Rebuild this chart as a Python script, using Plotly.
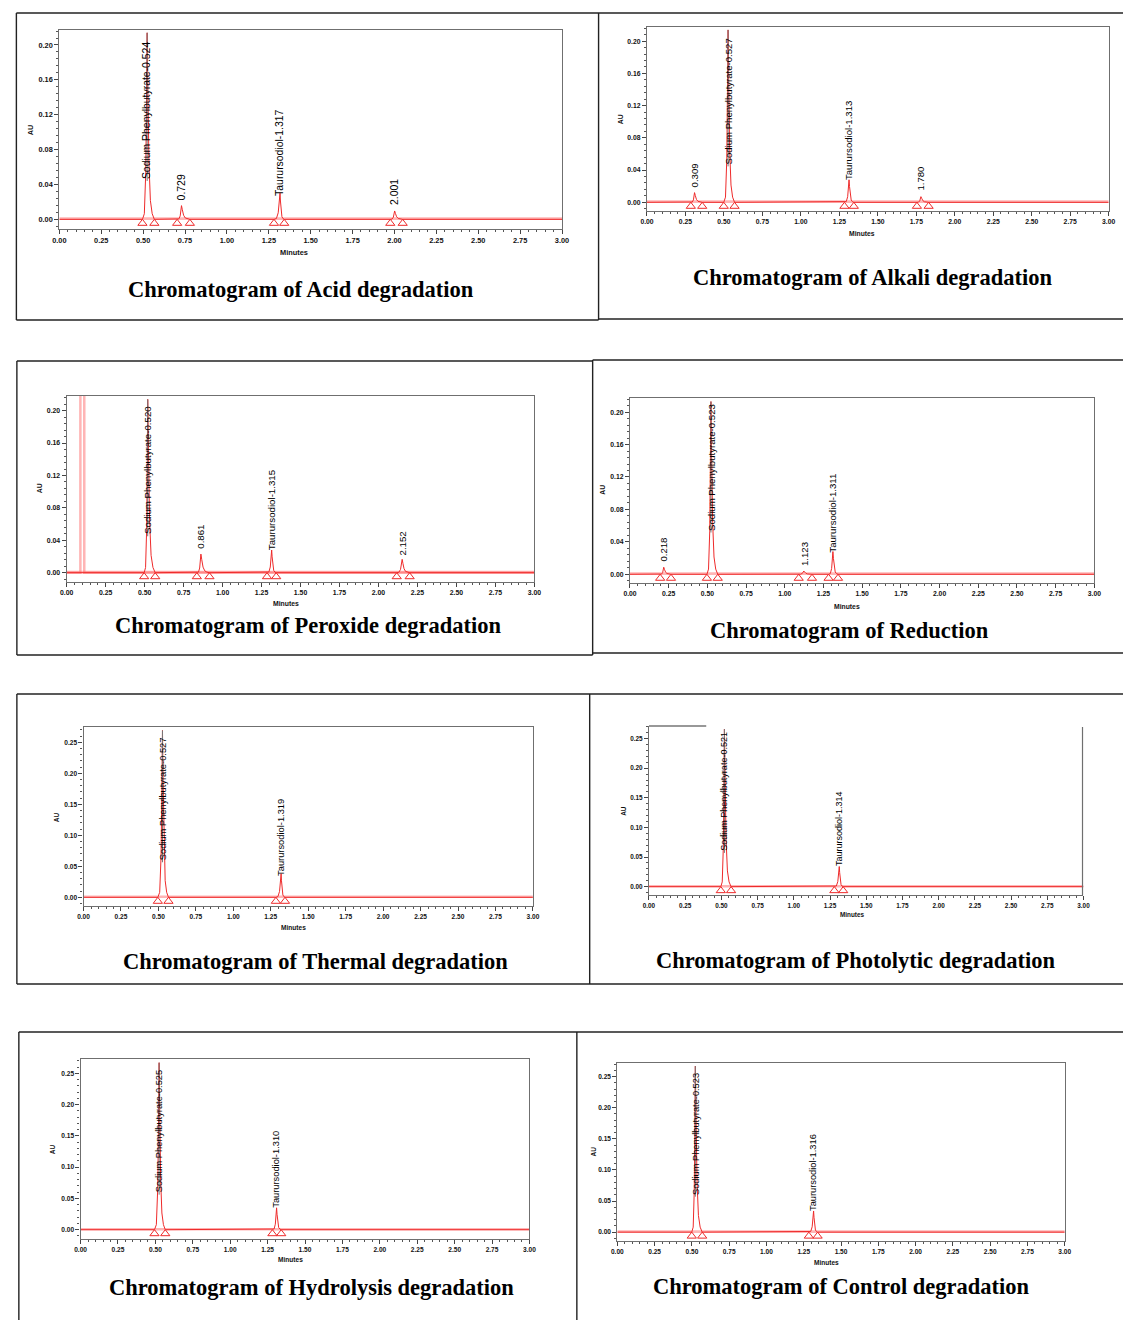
import plotly.graph_objects as go

W, H = 1130, 1320

# ------------------------- DATA -------------------------
x_tick_vals = [0.00, 0.25, 0.50, 0.75, 1.00, 1.25, 1.50, 1.75, 2.00, 2.25, 2.50, 2.75, 3.00]
y_ticks_020 = [0.00, 0.04, 0.08, 0.12, 0.16, 0.20]
y_ticks_025 = [0.00, 0.05, 0.10, 0.15, 0.20, 0.25]

titles = [
    "Chromatogram of Acid degradation",
    "Chromatogram of Alkali degradation",
    "Chromatogram of Peroxide degradation",
    "Chromatogram of Reduction",
    "Chromatogram of Thermal degradation",
    "Chromatogram of Photolytic degradation",
    "Chromatogram of Hydrolysis degradation",
    "Chromatogram of Control degradation",
]

# retention time (min), apex height (AU), peak start / end (min), label, label start (AU)
acid_rt = [0.524, 0.729, 1.317, 2.001]
acid_au = [0.214, 0.0157, 0.030, 0.0096]
acid_start = [0.496, 0.703, 1.281, 1.975]
acid_end = [0.567, 0.779, 1.342, 2.049]
acid_labels = ["Sodium Phenylbutyrate-0.524", "0.729", "Taurursodiol-1.317", "2.001"]
acid_label_au = [0.044, 0.020, 0.024, 0.0138]

alkali_rt = [0.309, 0.527, 1.313, 1.780]
alkali_au = [0.012, 0.214, 0.028, 0.007]
alkali_start = [0.285, 0.499, 1.283, 1.754]
alkali_end = [0.359, 0.569, 1.344, 1.830]
alkali_labels = ["0.309", "Sodium Phenylbutyrate-0.527", "Taurursodiol-1.313", "1.780"]
alkali_label_au = [0.0154, 0.0446, 0.0246, 0.012]

peroxide_rt = [0.520, 0.861, 1.315, 2.152]
peroxide_au = [0.214, 0.023, 0.028, 0.0165]
peroxide_start = [0.497, 0.835, 1.285, 2.117]
peroxide_end = [0.568, 0.916, 1.344, 2.200]
peroxide_labels = ["Sodium Phenylbutyrate-0.520", "0.861", "Taurursodiol-1.315", "2.152"]
peroxide_label_au = [0.045, 0.027, 0.025, 0.019]
peroxide_solvent_front = [0.088, 0.113]

reduction_rt = [0.218, 0.523, 1.123, 1.311]
reduction_au = [0.0087, 0.213, 0.004, 0.028]
reduction_start = [0.195, 0.497, 1.090, 1.283]
reduction_end = [0.265, 0.567, 1.176, 1.344]
reduction_labels = ["0.218", "Sodium Phenylbutyrate-0.523", "1.123", "Taurursodiol-1.311"]
reduction_label_au = [0.0128, 0.0515, 0.0074, 0.0247]

thermal_rt = [0.527, 1.319]
thermal_au = [0.269, 0.038]
thermal_start = [0.496, 1.284]
thermal_end = [0.567, 1.345]
thermal_labels = ["Sodium Phenylbutyrate-0.527", "Taurursodiol-1.319"]
thermal_label_au = [0.0565, 0.0306]

photolytic_rt = [0.521, 1.314]
photolytic_au = [0.266, 0.034]
photolytic_start = [0.496, 1.280]
photolytic_end = [0.567, 1.341]
photolytic_labels = ["Sodium Phenylbutyrate-0.521", "Taurursodiol-1.314"]
photolytic_label_au = [0.057, 0.031]

hydrolysis_rt = [0.525, 1.310]
hydrolysis_au = [0.267, 0.035]
hydrolysis_start = [0.494, 1.282]
hydrolysis_end = [0.566, 1.341]
hydrolysis_labels = ["Sodium Phenylbutyrate-0.525", "Taurursodiol-1.310"]
hydrolysis_label_au = [0.056, 0.032]

control_rt = [0.523, 1.316]
control_au = [0.267, 0.034]
control_start = [0.499, 1.284]
control_end = [0.569, 1.343]
control_labels = ["Sodium Phenylbutyrate-0.523", "Taurursodiol-1.316"]
control_label_au = [0.057, 0.031]

# peak outline: fraction of the way start->apex / apex->end, and fraction of apex height
rise_pos = [0.0, 0.40, 0.70, 0.85, 1.0]
rise_rel = [0.0, 0.03, 0.25, 0.60, 1.0]
fall_pos = [0.10, 0.25, 0.45, 0.70, 1.0]
fall_rel = [0.70, 0.30, 0.10, 0.03, 0.0]

panels_data = [
    (acid_rt, acid_au, acid_start, acid_end, acid_labels, acid_label_au),
    (alkali_rt, alkali_au, alkali_start, alkali_end, alkali_labels, alkali_label_au),
    (peroxide_rt, peroxide_au, peroxide_start, peroxide_end, peroxide_labels, peroxide_label_au),
    (reduction_rt, reduction_au, reduction_start, reduction_end, reduction_labels, reduction_label_au),
    (thermal_rt, thermal_au, thermal_start, thermal_end, thermal_labels, thermal_label_au),
    (photolytic_rt, photolytic_au, photolytic_start, photolytic_end, photolytic_labels, photolytic_label_au),
    (hydrolysis_rt, hydrolysis_au, hydrolysis_start, hydrolysis_end, hydrolysis_labels, hydrolysis_label_au),
    (control_rt, control_au, control_start, control_end, control_labels, control_label_au),
]

# ------------------------- LAYOUT / STYLE (pixels) -------------------------
geom = [
    dict(x0=53, x1=562, yt=30, yb=229, ymin=-0.0111, ymax=0.2172, big=False, tx=298, ty=289, mx=291, my=252, ax=24),
    dict(x0=648, x1=1115.5, yt=26.7, yb=211, ymin=-0.0108, ymax=0.2180, big=False, tx=876, ty=278, mx=866, my=233, ax=622),
    dict(x0=60.4, x1=534, yt=395.7, yb=581.7, ymin=-0.0111, ymax=0.2185, big=False, tx=305, ty=625, mx=282, my=604, ax=33),
    dict(x0=630.8, x1=1101, yt=397.7, yb=582.7, ymin=-0.0104, ymax=0.2178, big=False, tx=853, ty=630, mx=851, my=606, ax=603),
    dict(x0=77.5, x1=532.5, yt=727.3, yb=906.3, ymin=-0.0145, ymax=0.2741, big=True, tx=312, ty=961, mx=290, my=927, ax=50),
    dict(x0=650, x1=1090, yt=726, yb=895, ymin=-0.0141, ymax=0.2713, big=True, tx=859, ty=960, mx=856, my=914, ax=624),
    dict(x0=74.5, x1=529, yt=1058.7, yb=1238.7, ymin=-0.0144, ymax=0.2734, big=True, tx=308, ty=1287, mx=287, my=1259, ax=46),
    dict(x0=618, x1=1071, yt=1062.7, yb=1241, ymin=-0.0143, ymax=0.2725, big=True, tx=845, ty=1286, mx=830, my=1262, ax=594),
]

RED = "#ee2a2a"
PINK = "rgba(255,60,60,0.38)"
SANS = "Arial, Liberation Sans, sans-serif"
SERIF = "Times New Roman, Liberation Serif, serif"


def px_x(p):
    return p / W


def px_y(p):
    return 1 - p / H


fig = go.Figure()
annotations = []
shapes = []

for i, (g, d) in enumerate(zip(geom, panels_data), start=1):
    rts, aus, starts, ends, labels, label_au = d
    xr, yr = f"x{i}", f"y{i}"
    pw = g["x1"] - g["x0"]
    ph = g["yb"] - g["yt"]
    au_per_px = (g["ymax"] - g["ymin"]) / ph
    lab_fs = 0.0205 * pw
    tick_fs = 0.0145 * pw

    # signal trace built from the peaks
    xs, ys = [0.0], [0.0]
    if i == 3:
        s0, s1 = peroxide_solvent_front
        fig.add_trace(go.Scatter(x=[0.0, s0, s0, s1, s1, 3.0], y=[0.0, 0.0, 1.0, 1.0, 0.0, 0.0],
                                 mode="lines", line=dict(color=PINK, width=2.5),
                                 xaxis=xr, yaxis=yr, showlegend=False, hoverinfo="skip"))
    for rt, au, s, e in zip(rts, aus, starts, ends):
        for p, r in zip(rise_pos, rise_rel):
            xs.append(s + p * (rt - s))
            ys.append(r * au)
        for p, r in zip(fall_pos, fall_rel):
            xs.append(rt + p * (e - rt))
            ys.append(r * au)
    xs.append(3.0)
    ys.append(0.0)

    # baseline (pink, thicker)
    fig.add_trace(go.Scatter(x=[0.0, 3.0], y=[0.0008, 0.0008], mode="lines",
                             line=dict(color=PINK, width=2.6), xaxis=xr, yaxis=yr,
                             showlegend=False, hoverinfo="skip"))
    fig.add_trace(go.Scatter(x=xs, y=ys, mode="lines", line=dict(color=RED, width=1),
                             xaxis=xr, yaxis=yr, showlegend=False, hoverinfo="skip"))

    # apex drop line for the tall peaks
    for rt, au, la in zip(rts, aus, label_au):
        if au > 0.1:
            fig.add_trace(go.Scatter(x=[rt, rt], y=[la, au], mode="lines",
                                     line=dict(color="#777777", width=1), xaxis=xr, yaxis=yr,
                                     showlegend=False, hoverinfo="skip"))

    # start / end triangles
    tri_x = []
    for s, e in zip(starts, ends):
        tri_x += [s, e]
    tri_y = [-4.0 * au_per_px] * len(tri_x)
    fig.add_trace(go.Scatter(x=tri_x, y=tri_y, mode="markers",
                             marker=dict(symbol="triangle-up-open", size=8, color=RED,
                                         line=dict(color=RED, width=1)),
                             xaxis=xr, yaxis=yr, showlegend=False, hoverinfo="skip", cliponaxis=False))

    # peak labels
    for rt, lab, la in zip(rts, labels, label_au):
        annotations.append(dict(x=rt, y=la, xref=xr, yref=yr, text=lab, showarrow=False,
                                textangle=-90, xanchor="center", yanchor="bottom",
                                font=dict(family=SANS, size=lab_fs, color="#000")))

    yt_vals = y_ticks_025 if g["big"] else y_ticks_020
    minor_dy = 0.01 if g["big"] else 0.008
    photo = (i == 6)
    axis_common = dict(showgrid=False, zeroline=False, showline=True, linecolor="#6f6f6f",
                       linewidth=1.2, ticks="outside", ticklen=4, tickwidth=1, tickcolor="#444",
                       tickfont=dict(family=SANS, size=tick_fs, color="#111", weight="bold"),
                       mirror=(not photo))
    fig.layout[f"xaxis{i}"] = dict(
        axis_common, domain=[px_x(g["x0"]), px_x(g["x1"])], range=[0, 3], anchor=yr,
        tickvals=x_tick_vals, ticktext=[f"{v:.2f}" for v in x_tick_vals],
        minor=dict(tick0=0, dtick=0.05, ticklen=2, tickcolor="#555", ticks="outside"))
    fig.layout[f"yaxis{i}"] = dict(
        axis_common, domain=[px_y(g["yb"]), px_y(g["yt"])], range=[g["ymin"], g["ymax"]],
        anchor=xr, tickvals=yt_vals, ticktext=[f"{v:.2f}" for v in yt_vals],
        minor=dict(tick0=0, dtick=minor_dy, ticklen=2, tickcolor="#555", ticks="outside"))

    # axis titles
    annotations.append(dict(x=px_x(g["mx"]), y=px_y(g["my"]), xref="paper", yref="paper",
                            text="<b>Minutes</b>", showarrow=False, xanchor="center", yanchor="middle",
                            font=dict(family=SANS, size=tick_fs, color="#111")))
    annotations.append(dict(x=px_x(g["ax"]), y=px_y((g["yt"] + g["yb"]) / 2), xref="paper",
                            yref="paper", text="<b>AU</b>", showarrow=False, textangle=-90,
                            xanchor="center", yanchor="middle",
                            font=dict(family=SANS, size=tick_fs, color="#111")))
    # chart caption
    annotations.append(dict(x=px_x(g["tx"]), y=px_y(g["ty"]), xref="paper", yref="paper",
                            text=f"<b>{titles[i - 1]}</b>", showarrow=False, xanchor="center",
                            yanchor="middle", font=dict(family=SERIF, size=22.5, color="#000")))

# photolytic panel: partial top frame + right frame
g6 = geom[5]
shapes.append(dict(type="line", xref="paper", yref="paper", x0=px_x(g6["x0"]), x1=px_x(708),
                   y0=px_y(g6["yt"]), y1=px_y(g6["yt"]), line=dict(color="#333", width=1.2)))
shapes.append(dict(type="line", xref="paper", yref="paper", x0=px_x(1089), x1=px_x(1089),
                   y0=px_y(g6["yt"] + 1), y1=px_y(g6["yb"]), line=dict(color="#6f6f6f", width=1.2)))

# panel borders (pixel positions)
border_lines = [
    (9.5, 13, 1130, 13), (9.5, 13, 9.5, 320), (599, 13, 599, 320), (9.5, 320, 599, 320), (599, 319, 1130, 319),
    (10, 361, 593, 361), (10, 361, 10, 655), (593, 360, 593, 655), (10, 655, 593, 655),
    (593, 360, 1130, 360), (593, 653, 1130, 653),
    (10, 694, 1130, 694), (10, 694, 10, 984), (590, 694, 590, 984), (10, 984, 1130, 984),
    (12, 1032, 1130, 1032), (12, 1032, 12, 1320), (577, 1032, 577, 1320),
]
for x0, y0, x1, y1 in border_lines:
    shapes.append(dict(type="line", xref="paper", yref="paper", x0=px_x(x0), y0=px_y(y0),
                       x1=px_x(x1), y1=px_y(y1), line=dict(color="#222", width=1.4)))

fig.update_layout(width=W, height=H, margin=dict(l=0, r=0, t=0, b=0),
                  paper_bgcolor="white", plot_bgcolor="white",
                  annotations=annotations, shapes=shapes, showlegend=False)

fig.write_html("out.html",
               post_script="document.body.style.margin='0px';document.body.style.overflow='hidden';")
